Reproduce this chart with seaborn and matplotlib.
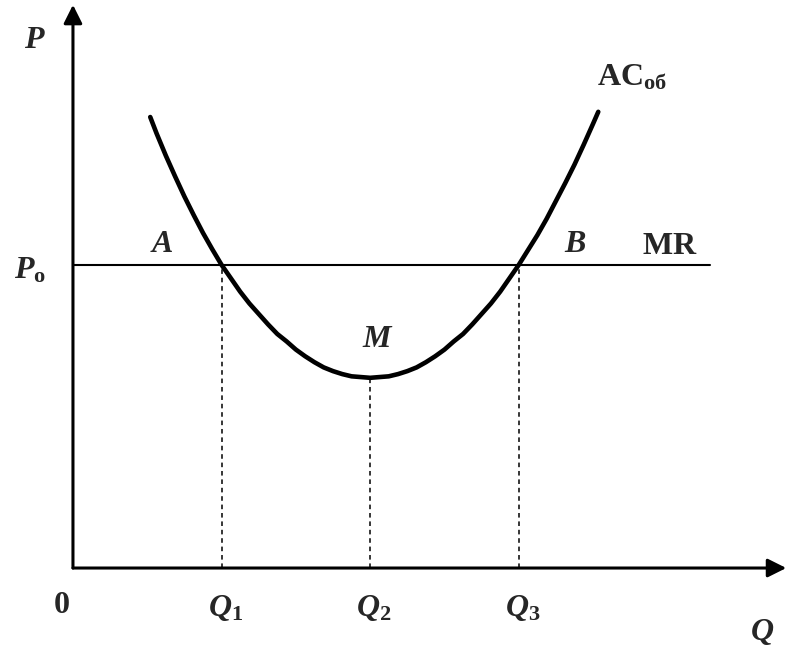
import matplotlib
matplotlib.use("Agg")
import matplotlib.pyplot as plt
import numpy as np
import pandas as pd
import seaborn as sns

# -----------------------------
# Data (axis units)
# -----------------------------
q_curve = [1.04, 1.125, 1.25, 1.375, 1.5, 1.625, 1.75, 1.875, 2.0, 2.125, 2.25, 2.375,
           2.5, 2.625, 2.75, 2.875, 3.0, 3.125, 3.25, 3.375, 3.5, 3.625, 3.75, 3.875,
           4.0, 4.125, 4.25, 4.375, 4.5, 4.625, 4.75, 4.875, 5.0, 5.125, 5.25, 5.375,
           5.5, 5.625, 5.75, 5.875, 6.0, 6.125, 6.25, 6.375, 6.5, 6.625, 6.75, 6.875,
           7.0, 7.07]
ac_curve = [6.07, 5.85, 5.55, 5.27, 5.00, 4.75, 4.51, 4.29, 4.08, 3.90, 3.72, 3.56,
            3.42, 3.28, 3.15, 3.05, 2.94, 2.85, 2.77, 2.70, 2.65, 2.61, 2.58, 2.57,
            2.56, 2.57, 2.58, 2.61, 2.65, 2.70, 2.77, 2.85, 2.94, 3.05, 3.15, 3.28,
            3.42, 3.56, 3.72, 3.90, 4.08, 4.28, 4.48, 4.70, 4.94, 5.18, 5.43, 5.70,
            5.98, 6.14]
p0 = 4.08
mr_end = 8.57
q_marks = [2.0, 4.0, 6.0]
q_mark_tops = [4.08, 2.56, 4.08]
q_labels = ["$Q_1$", "$Q_2$", "$Q_3$"]

df = pd.DataFrame({"Q": q_curve, "AC": ac_curve})

# -----------------------------
# Style
# -----------------------------
sns.set_style("white")
plt.rcParams["font.family"] = ["Liberation Serif", "DejaVu Serif"]
plt.rcParams["font.weight"] = "bold"
plt.rcParams["mathtext.fontset"] = "custom"
plt.rcParams["mathtext.rm"] = "Liberation Serif:bold"
plt.rcParams["mathtext.it"] = "Liberation Serif:italic:bold"

fig = plt.figure(figsize=(7.89, 6.58), dpi=100)
ax = fig.add_axes([0, 0, 1, 1])
ax.set_xlim(-0.982, 9.637)
ax.set_ylim(-1.211, 7.645)
ax.axis("off")

# axes with arrows
arrow = dict(arrowstyle="-|>", mutation_scale=28, lw=2.2, color="black",
             shrinkA=0, shrinkB=0)
ax.annotate("", xy=(9.6, 0), xytext=(0, 0), arrowprops=arrow)
ax.annotate("", xy=(0, 7.58), xytext=(0, 0), arrowprops=arrow)

# MR line
ax.plot([0, mr_end], [p0, p0], color="black", lw=1.5)

# dashed drop lines
for qx, top in zip(q_marks, q_mark_tops):
    ax.plot([qx, qx], [0, top], color="black", lw=1.1, ls=(0, (3, 2.5)))

# AC curve
sns.lineplot(data=df, x="Q", y="AC", ax=ax, color="black", lw=3.3, sort=False)
ax.lines[-1].set_solid_joinstyle("round")

# labels
fs = 23
ax.text(-0.51, 7.1, "$P$", fontsize=fs, ha="center", va="center")
ax.text(-0.58, 4.0, "$P_{\\mathrm{o}}$", fontsize=fs, ha="center", va="center")
ax.text(-0.15, -0.5, "0", fontsize=fs, ha="center", va="center")
for qx, lab in zip(q_marks, q_labels):
    ax.text(qx + 0.05, -0.54, lab, fontsize=fs, ha="center", va="center")
ax.text(9.27, -0.86, "$Q$", fontsize=fs, ha="center", va="center")
ax.text(1.2, 4.35, "$A$", fontsize=fs, ha="center", va="center")
ax.text(6.76, 4.35, "$B$", fontsize=fs, ha="center", va="center")
ax.text(8.03, 4.33, "$\\mathrm{MR}$", fontsize=fs, ha="center", va="center")
ax.text(4.1, 3.07, "$M$", fontsize=fs, ha="center", va="center")
ax.text(7.52, 6.6, "AC$_{\\mathrm{об}}$", fontsize=fs, ha="center", va="center")

fig.savefig("out.png", dpi=100)
plt.close(fig)
